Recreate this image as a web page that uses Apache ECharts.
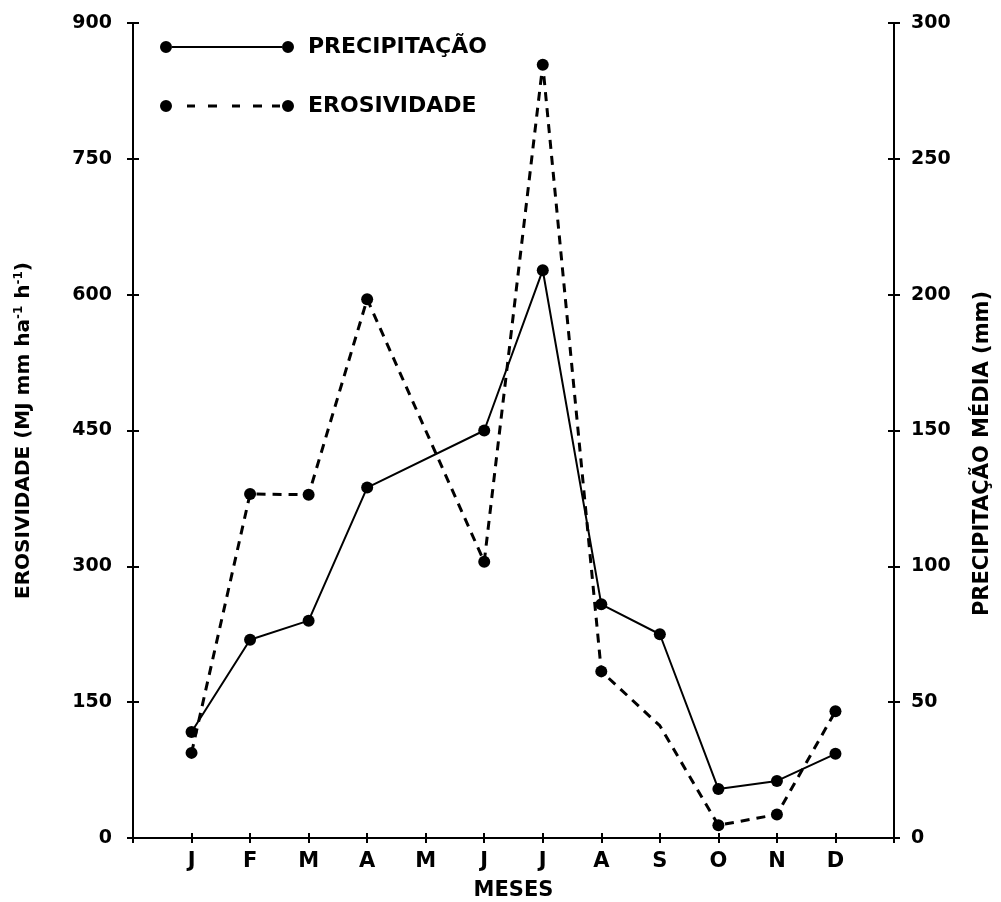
<!DOCTYPE html>
<html>
<head>
<meta charset="utf-8">
<script src="https://cdn.jsdelivr.net/npm/echarts@6/dist/echarts.min.js"></script>
<style>
html,body{margin:0;padding:0;background:#fff;}
#chart{width:1001px;height:902px;}
</style>
</head>
<body>
<div id="chart"></div>
<script>
// ---- data ----
const months = ['J','F','M','A','M','J','J','A','S','O','N','D'];
const precipitacao = [39, 73, 80, 129, null, 150, 209, 86, 75, 18, 21, 31];   // mm (right axis)
const erosividade  = [94, 380, 379, 595, null, 305, 854, 184, 124, 14, 26, 140]; // MJ mm ha-1 h-1 (left axis)
const hiddenMarkerErosividade = [8]; // S point: no visible dot in reference
const leftAxisRange  = {min: 0, max: 900, interval: 150};
const rightAxisRange = {min: 0, max: 300, interval: 50};
const xRange = {min: 0, max: 13, interval: 1};

const FONT = 'DejaVu Sans';
const chart = echarts.init(document.getElementById('chart'), null, {renderer: 'canvas'});

const solidIcon = 'path://M0,6A6,6 0 1,0 12,6A6,6 0 1,0 0,6Z M122,6A6,6 0 1,0 134,6A6,6 0 1,0 122,6Z M12,5L122,5L122,7L12,7Z';
const dashedIcon = 'path://M0,6A6,6 0 1,0 12,6A6,6 0 1,0 0,6Z M122,6A6,6 0 1,0 134,6A6,6 0 1,0 122,6Z ' +
  'M27,4.5L35,4.5L35,7.5L27,7.5Z M48,4.5L57,4.5L57,7.5L48,7.5Z M72,4.5L80,4.5L80,7.5L72,7.5Z ' +
  'M93,4.5L102,4.5L102,7.5L93,7.5Z M112,4.5L120,4.5L120,7.5L112,7.5Z';

const axisLineStyle = {color: '#000', width: 2};
function xAxisDef(inside) {
  return {
    type: 'value', position: 'bottom', min: xRange.min, max: xRange.max, interval: xRange.interval,
    axisLine: {show: !inside, onZero: false, lineStyle: axisLineStyle},
    axisTick: {show: true, inside: inside, length: 5, lineStyle: {color: '#000', width: 2}},
    splitLine: {show: false},
    axisLabel: inside ? {show: false} : {
      show: true, margin: 13, color: '#000', fontFamily: FONT, fontWeight: 'bold', fontSize: 21,
      formatter: v => (v >= 1 && v <= 12) ? months[v - 1] : ''
    },
    name: inside ? '' : 'MESES', nameLocation: 'middle', nameGap: 42,
    nameTextStyle: {color: '#000', fontFamily: FONT, fontWeight: 'bold', fontSize: 21}
  };
}
function yAxisDef(range, pos, inside, name, nameGap, nameStyle) {
  return {
    type: 'value', position: pos, min: range.min, max: range.max, interval: range.interval,
    axisLine: {show: !inside, onZero: false, lineStyle: axisLineStyle},
    axisTick: {show: true, inside: inside, length: 6, lineStyle: {color: '#000', width: 2}},
    splitLine: {show: false},
    axisLabel: inside ? {show: false} : {
      show: true, margin: pos === 'left' ? 21 : 17, color: '#000', fontFamily: FONT, fontWeight: 'bold', fontSize: 19
    },
    name: inside ? '' : name, nameLocation: 'middle', nameRotate: 90, nameGap: nameGap,
    nameTextStyle: nameStyle
  };
}

const rightNameStyle = {color: '#000', fontFamily: FONT, fontWeight: 'bold', fontSize: 21, padding: [0, 46, 0, 0]};
const leftNameStyle = {
  color: '#000', fontFamily: FONT, fontWeight: 'bold', fontSize: 20,
  rich: {
    a: {color: '#000', fontFamily: FONT, fontWeight: 'bold', fontSize: 20},
    s: {color: '#000', fontFamily: FONT, fontWeight: 'bold', fontSize: 12, verticalAlign: 'top', padding: [0, 0, 10, 0]}
  }
};

const option = {
  animation: false,
  backgroundColor: '#fff',
  grid: {left: 133, right: 107, top: 23, bottom: 64, containLabel: false, outerBoundsMode: 'none'},
  legend: {
    orient: 'vertical', left: 155, top: 31, itemWidth: 134, itemHeight: 12, itemGap: 37,
    textStyle: {color: '#000', fontFamily: FONT, fontWeight: 'bold', fontSize: 22, padding: [0, 0, 0, 9]},
    data: [
      {name: 'PRECIPITAÇÃO', icon: solidIcon, itemStyle: {color: '#000'}},
      {name: 'EROSIVIDADE', icon: dashedIcon, itemStyle: {color: '#000'}}
    ]
  },
  xAxis: [xAxisDef(false), xAxisDef(true)],
  yAxis: [
    yAxisDef(leftAxisRange, 'left', false, '{a|EROSIVIDADE (MJ mm ha}{s|-1}{a| h}{s|-1}{a|)}', 98, leftNameStyle),
    yAxisDef(rightAxisRange, 'right', false, 'PRECIPITAÇÃO MÉDIA (mm)', 78, rightNameStyle),
    yAxisDef(leftAxisRange, 'left', true, '', 0, {}),
    yAxisDef(rightAxisRange, 'right', true, '', 0, {})
  ],
  series: [
    {
      name: 'PRECIPITAÇÃO', type: 'line', xAxisIndex: 0, yAxisIndex: 1,
      data: precipitacao.map((v, i) => [i + 1, v === null ? '-' : v]),
      connectNulls: true, symbol: 'circle', symbolSize: 12,
      itemStyle: {color: '#000'}, lineStyle: {color: '#000', width: 2, type: 'solid'}
    },
    {
      name: 'EROSIVIDADE', type: 'line', xAxisIndex: 0, yAxisIndex: 0,
      data: erosividade.map((v, i) => {
        const item = [i + 1, v === null ? '-' : v];
        return hiddenMarkerErosividade.includes(i) ? {value: item, symbol: 'none'} : item;
      }),
      connectNulls: true, symbol: 'circle', symbolSize: 12,
      itemStyle: {color: '#000'}, lineStyle: {color: '#000', width: 3, type: [9, 7]}
    }
  ]
};
chart.setOption(option);
</script>
</body>
</html>
